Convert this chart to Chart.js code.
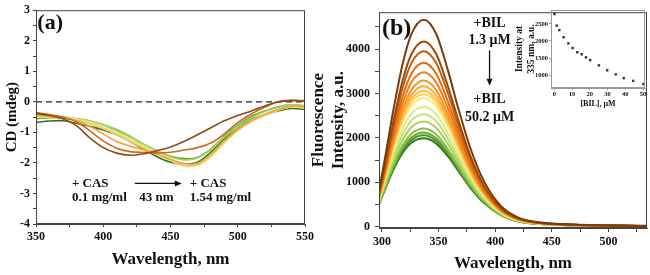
<!DOCTYPE html>
<html>
<head>
<meta charset="utf-8">
<script src="https://cdn.jsdelivr.net/npm/chart.js@4.4.0/dist/chart.umd.min.js"></script>
<style>
  body { margin: 0; background: #fff; }
  #wrap { position: relative; width: 650px; height: 275px; overflow: hidden; background: #fff; }
  canvas { position: absolute; top: 0; }
</style>
</head>
<body>
<div id="wrap">
  <canvas id="cd-chart" width="325" height="275" style="left:0px"></canvas>
  <canvas id="fl-chart" width="342" height="275" style="left:308px"></canvas>
  <canvas id="inset-chart" width="138" height="112" style="left:512px"></canvas>
</div>
<script>
// ---- panel (a): CD spectra, CAS titration ----
const cdWavelengths = [350, 360, 370, 380, 390, 400, 410, 420, 430, 440, 450, 460, 470, 480, 490, 500, 510, 520, 530, 540, 550];
const cdBrown    = [-0.38, -0.45, -0.55, -0.78, -1.18, -1.50, -1.68, -1.75, -1.70, -1.60, -1.48, -1.30, -1.08, -0.85, -0.62, -0.45, -0.30, -0.14, 0.00, 0.04, 0.02];
const cdOrange   = [-0.35, -0.42, -0.50, -0.65, -0.95, -1.28, -1.52, -1.63, -1.66, -1.67, -1.65, -1.58, -1.50, -1.35, -1.05, -0.68, -0.40, -0.18, 0.00, 0.05, 0.04];
const cdLtOrange = [-0.42, -0.48, -0.52, -0.62, -0.80, -1.05, -1.30, -1.45, -1.58, -1.72, -1.88, -2.02, -2.02, -1.72, -1.28, -0.90, -0.62, -0.42, -0.25, -0.14, -0.15];
const cdAmber    = [-0.45, -0.50, -0.52, -0.60, -0.72, -0.88, -1.08, -1.30, -1.52, -1.72, -1.92, -2.08, -2.05, -1.75, -1.30, -0.92, -0.62, -0.42, -0.25, -0.15, -0.18];
const cdYellow   = [-0.48, -0.50, -0.52, -0.60, -0.70, -0.85, -1.02, -1.25, -1.48, -1.70, -1.92, -2.10, -2.08, -1.80, -1.35, -0.95, -0.65, -0.45, -0.28, -0.17, -0.20];
const cdPale     = [-0.50, -0.48, -0.50, -0.56, -0.66, -0.80, -0.98, -1.20, -1.44, -1.66, -1.88, -2.05, -2.02, -1.72, -1.28, -0.90, -0.60, -0.40, -0.24, -0.14, -0.17];
const cdLtGreen  = [-0.45, -0.46, -0.48, -0.54, -0.62, -0.74, -0.90, -1.12, -1.38, -1.60, -1.80, -1.90, -1.84, -1.55, -1.15, -0.80, -0.52, -0.32, -0.18, -0.10, -0.13];
const cdGreen    = [-0.55, -0.52, -0.52, -0.58, -0.66, -0.78, -0.95, -1.18, -1.42, -1.62, -1.78, -1.86, -1.82, -1.55, -1.12, -0.76, -0.48, -0.30, -0.16, -0.10, -0.14];
const cdDkGreen  = [-0.68, -0.63, -0.62, -0.70, -0.80, -0.92, -1.08, -1.30, -1.55, -1.80, -1.98, -2.04, -1.98, -1.65, -1.22, -0.88, -0.58, -0.42, -0.30, -0.22, -0.25];
const zeroLineX = [350, 550];
const zeroLineY = [0, 0];

// ---- panel (b): fluorescence spectra, BIL titration ----
const flWavelengths = [297, 302, 310, 318, 326, 337, 348, 358, 368, 378, 390, 405, 420, 440, 470, 535];
const fl01 = [770, 1445, 2610, 3635, 4334, 4660, 4334, 3542, 2610, 1771, 1025, 466, 210, 93, 47, 19];
const fl02 = [708, 1316, 2356, 3265, 3882, 4170, 3882, 3180, 2352, 1601, 930, 425, 192, 86, 43, 17];
const fl03 = [689, 1269, 2252, 3105, 3683, 3950, 3678, 3022, 2242, 1531, 893, 411, 186, 83, 42, 17];
const fl04 = [661, 1207, 2122, 2912, 3446, 3690, 3439, 2832, 2107, 1443, 845, 390, 176, 81, 41, 16];
const fl05 = [640, 1157, 2018, 2758, 3254, 3480, 3245, 2680, 2001, 1375, 809, 374, 170, 78, 39, 16];
const fl06 = [620, 1112, 1925, 2618, 3080, 3290, 3070, 2542, 1905, 1313, 775, 360, 164, 76, 38, 15];
const fl07 = [610, 1087, 1864, 2525, 2963, 3160, 2951, 2449, 1841, 1272, 755, 351, 160, 75, 38, 15];
const fl08 = [606, 1068, 1821, 2454, 2873, 3060, 2858, 2379, 1793, 1242, 741, 346, 158, 75, 37, 15];
const fl09 = [603, 1058, 1788, 2399, 2801, 2980, 2786, 2324, 1758, 1222, 730, 343, 156, 75, 37, 15];
const fl10 = [598, 1043, 1748, 2335, 2720, 2890, 2704, 2261, 1717, 1196, 717, 338, 154, 74, 37, 15];
const fl11 = [572, 988, 1647, 2190, 2545, 2700, 2527, 2120, 1613, 1127, 678, 321, 147, 71, 35, 14];
const fl12 = [548, 941, 1556, 2059, 2388, 2530, 2371, 1992, 1521, 1065, 643, 306, 140, 68, 34, 14];
const fl13 = [524, 895, 1469, 1937, 2240, 2370, 2222, 1872, 1434, 1007, 610, 290, 133, 65, 33, 13];
const fl14 = [499, 846, 1381, 1814, 2091, 2210, 2073, 1751, 1346, 948, 577, 274, 126, 62, 31, 12];
const fl15 = [489, 824, 1336, 1747, 2009, 2120, 1990, 1685, 1299, 917, 560, 267, 123, 61, 31, 12];
const fl16 = [484, 812, 1308, 1704, 1955, 2060, 1934, 1643, 1269, 898, 550, 264, 122, 61, 30, 12];
const fl17 = [478, 796, 1274, 1652, 1891, 1990, 1871, 1592, 1234, 876, 537, 259, 119, 60, 30, 12];

// ---- inset: intensity at 335 nm vs [BIL] ----
const bilConc = [0, 1.3, 2.8, 5.2, 7.9, 10.3, 12.9, 15.4, 17.8, 20.2, 25.1, 29.8, 34.6, 39.1, 44.4, 50.2];
const bilIntensity = [2790, 2450, 2320, 2110, 1930, 1795, 1670, 1610, 1520, 1440, 1285, 1140, 1020, 910, 830, 735];

Chart.defaults.font.family = "'Liberation Serif', 'Times New Roman', serif";
Chart.defaults.font.weight = 'bold';
Chart.defaults.color = '#111';

function points(xs, ys) {
    return xs.map((x, i) => ({ x: x, y: ys[i] }));
}

// tick positions at a fixed step (major + minor), labels picked by callback
function fixedTicks(from, to, step) {
    return function(scale) {
        const t = [];
        for (let v = from; v <= to + 1e-9; v += step) {
            t.push({ value: Math.round(v * 100) / 100 });
        }
        scale.ticks = t;
    };
}

// box around the plot area
const framePlugin = {
    id: 'frame',
    afterDraw(chart, args, opts) {
        const a = chart.chartArea;
        const ctx = chart.ctx;
        ctx.save();
        ctx.strokeStyle = opts.color || '#333';
        ctx.lineWidth = opts.width || 1;
        ctx.strokeRect(a.left + 0.5, a.top + 0.5, a.right - a.left - 1, a.bottom - a.top - 1);
        ctx.restore();
    }
};

// text and arrows placed in data units
const notesPlugin = {
    id: 'notes',
    afterDatasetsDraw(chart, args, opts) {
        const ctx = chart.ctx;
        const xs = chart.scales.x, ys = chart.scales.y;
        ctx.save();
        ctx.fillStyle = '#111';
        ctx.strokeStyle = '#111';
        (opts.items || []).forEach(item => {
            const px = xs.getPixelForValue(item.x);
            const py = ys.getPixelForValue(item.y);
            if (item.text) {
                ctx.font = 'bold ' + item.size + "px 'Liberation Serif', serif";
                ctx.textAlign = item.align || 'left';
                ctx.textBaseline = 'middle';
                ctx.fillText(item.text, px, py);
            }
            if (item.toX !== undefined) {
                const qx = xs.getPixelForValue(item.toX);
                const qy = ys.getPixelForValue(item.toY);
                const ang = Math.atan2(qy - py, qx - px);
                ctx.lineWidth = 1.3;
                ctx.beginPath();
                ctx.moveTo(px, py);
                ctx.lineTo(qx - 5 * Math.cos(ang), qy - 5 * Math.sin(ang));
                ctx.stroke();
                ctx.beginPath();
                ctx.moveTo(qx, qy);
                ctx.lineTo(qx - 7 * Math.cos(ang) + 3 * Math.sin(ang), qy - 7 * Math.sin(ang) - 3 * Math.cos(ang));
                ctx.lineTo(qx - 7 * Math.cos(ang) - 3 * Math.sin(ang), qy - 7 * Math.sin(ang) + 3 * Math.cos(ang));
                ctx.closePath();
                ctx.fill();
            }
        });
        ctx.restore();
    }
};

// Adding the CD chart
const cdSeries = [cdBrown, cdOrange, cdLtOrange, cdAmber, cdYellow, cdPale, cdLtGreen, cdGreen, cdDkGreen];
const cdColors = ['#8a4a1c', '#d0691c', '#f3a33c', '#f8c75a', '#efe27a', '#dcec9a', '#a3cd66', '#5e9f38', '#2b7520'];

const cdDatasets = cdSeries.map((s, i) => ({
    data: points(cdWavelengths, s),
    borderColor: cdColors[i],
    borderWidth: 1.6,
    pointRadius: 0,
    tension: 0.35
}));
cdDatasets.push({
    data: points(zeroLineX, zeroLineY),
    borderColor: '#222',
    borderWidth: 1.2,
    borderDash: [6, 4],
    pointRadius: 0
});

new Chart(document.querySelector('#cd-chart').getContext('2d'), {
    type: 'line',
    data: { datasets: cdDatasets },
    options: {
        responsive: false,
        animation: false,
        devicePixelRatio: 1,
        layout: { padding: { top: 6, right: 20, left: 0, bottom: 0 } },
        plugins: {
            legend: { display: false },
            tooltip: { enabled: false },
            frame: { color: '#444', width: 1 },
            notes: {
                items: [
                    { text: '(a)', x: 351, y: 2.56, size: 22 },
                    { text: '+ CAS', x: 376.7, y: -2.67, size: 13 },
                    { text: '0.1 mg/ml', x: 376.7, y: -3.15, size: 13 },
                    { text: '43 nm', x: 439.5, y: -3.15, size: 13, align: 'center' },
                    { x: 423.5, y: -2.67, toX: 458.4, toY: -2.67 },
                    { text: '+ CAS', x: 464.3, y: -2.67, size: 13 },
                    { text: '1.54 mg/ml', x: 464.3, y: -3.15, size: 13 }
                ]
            }
        },
        scales: {
            x: {
                type: 'linear',
                min: 350, max: 550,
                afterFit: (scale) => { scale.height = 51; },
                afterBuildTicks: fixedTicks(350, 550, 25),
                border: { color: '#444', width: 1 },
                grid: { drawOnChartArea: false, tickLength: 3, color: '#444' },
                ticks: {
                    autoSkip: false, maxRotation: 0, padding: 3,
                    font: { size: 12, weight: 'bold' }, color: '#111',
                    callback: (v) => v % 50 === 0 ? String(v) : ''
                },
                title: {
                    display: true, text: 'Wavelength, nm',
                    font: { size: 17, weight: 'bold' }, color: '#111',
                    padding: { top: 0, bottom: 5 }
                }
            },
            y: {
                min: -4, max: 3,
                afterFit: (scale) => { scale.width = 36; },
                afterBuildTicks: fixedTicks(-4, 3, 0.5),
                border: { color: '#444', width: 1 },
                grid: { drawOnChartArea: false, tickLength: 3, color: '#444' },
                ticks: {
                    autoSkip: false, padding: 3,
                    font: { size: 12, weight: 'bold' }, color: '#111',
                    callback: (v) => v % 1 === 0 ? String(v) : ''
                },
                title: {
                    display: true, text: 'CD (mdeg)',
                    font: { size: 15, weight: 'bold' }, color: '#111',
                    padding: { top: 3, bottom: 0 }
                }
            }
        }
    },
    plugins: [framePlugin, notesPlugin]
});

// Adding the fluorescence chart
const flSeries = [fl01, fl02, fl03, fl04, fl05, fl06, fl07, fl08, fl09, fl10, fl11, fl12, fl13, fl14, fl15, fl16, fl17];
const flColors = ['#7a3b0b', '#9c4a0c', '#c05c0a', '#e06c0c', '#f07e18', '#f59426', '#f8aa38', '#fbc04a', '#fdd860',
                  '#f6ec7e', '#e0ec8a', '#c6e070', '#a8d05a', '#88be46', '#6aa836', '#4c9226', '#2e7a16'];

new Chart(document.querySelector('#fl-chart').getContext('2d'), {
    type: 'line',
    data: {
        datasets: flSeries.map((s, i) => ({
            data: points(flWavelengths, s),
            borderColor: flColors[i],
            borderWidth: 2,
            pointRadius: 0,
            cubicInterpolationMode: 'monotone'
        }))
    },
    options: {
        responsive: false,
        animation: false,
        devicePixelRatio: 1,
        layout: { padding: { top: 8, right: 3, left: 0, bottom: 0 } },
        plugins: {
            legend: { display: false },
            tooltip: { enabled: false },
            frame: { color: '#444', width: 1 },
            notes: {
                items: [
                    { text: '(b)', x: 300, y: 4457, size: 24 },
                    { text: '+BIL', x: 395, y: 4568, size: 14, align: 'center' },
                    { text: '1.3 \u03bcM', x: 395, y: 4192, size: 14, align: 'center' },
                    { x: 395, y: 3970, toX: 395, toY: 3175 },
                    { text: '+BIL', x: 395, y: 2866, size: 14, align: 'center' },
                    { text: '50.2 \u03bcM', x: 395, y: 2468, size: 14, align: 'center' }
                ]
            }
        },
        scales: {
            x: {
                type: 'linear',
                min: 297.4, max: 534,
                afterFit: (scale) => { scale.height = 47; },
                afterBuildTicks: fixedTicks(300, 525, 25),
                border: { color: '#444', width: 1 },
                grid: { drawOnChartArea: false, tickLength: 4, color: '#444' },
                ticks: {
                    autoSkip: false, maxRotation: 0, padding: 3,
                    font: { size: 12, weight: 'bold' }, color: '#111',
                    callback: (v) => v % 50 === 0 ? String(v) : ''
                },
                title: {
                    display: true, text: 'Wavelength, nm',
                    font: { size: 17, weight: 'bold' }, color: '#111',
                    padding: { top: 0, bottom: 1 }
                }
            },
            y: {
                min: -30, max: 4830,
                afterFit: (scale) => { scale.width = 71; },
                afterBuildTicks: fixedTicks(0, 4500, 500),
                border: { color: '#444', width: 1 },
                grid: { drawOnChartArea: false, tickLength: 4, color: '#444' },
                ticks: {
                    autoSkip: false, padding: 5,
                    font: { size: 12, weight: 'bold' }, color: '#111',
                    callback: (v) => v % 1000 === 0 ? String(v) : ''
                },
                title: {
                    display: true, text: ['Fluorescence', 'Intensity, a.u.'],
                    font: { size: 17, weight: 'bold', lineHeight: 1.15 }, color: '#111',
                    padding: { top: 1, bottom: 0 }
                }
            }
        }
    },
    plugins: [framePlugin, notesPlugin]
});

// Adding the inset scatter
new Chart(document.querySelector('#inset-chart').getContext('2d'), {
    type: 'scatter',
    data: {
        datasets: [{
            data: points(bilConc, bilIntensity),
            backgroundColor: '#333',
            borderColor: '#333',
            pointStyle: 'rect',
            pointRadius: 1.7,
            borderWidth: 0
        }]
    },
    options: {
        responsive: false,
        animation: false,
        devicePixelRatio: 1,
        layout: { padding: { top: 10, right: 5, left: 0, bottom: 0 } },
        plugins: {
            legend: { display: false },
            tooltip: { enabled: false },
            frame: { color: '#999', width: 1 }
        },
        scales: {
            x: {
                min: -1.9, max: 51.1,
                afterFit: (scale) => { scale.height = 24; },
                afterBuildTicks: fixedTicks(0, 50, 10),
                border: { color: '#999', width: 1 },
                grid: { drawOnChartArea: false, tickLength: 2, color: '#999' },
                ticks: {
                    autoSkip: false, maxRotation: 0, padding: 0,
                    font: { size: 6.5, weight: 'bold' }, color: '#111',
                    callback: (v) => String(v)
                },
                title: {
                    display: true, text: '[BIL], \u03bcM',
                    font: { size: 8, weight: 'bold' }, color: '#111',
                    padding: { top: 0, bottom: 3 }
                }
            },
            y: {
                min: 620, max: 2910,
                afterFit: (scale) => { scale.width = 39; },
                afterBuildTicks: fixedTicks(1000, 2500, 500),
                border: { color: '#999', width: 1 },
                grid: { drawOnChartArea: false, tickLength: 2, color: '#999' },
                ticks: {
                    autoSkip: false, padding: 1,
                    font: { size: 6.5, weight: 'bold' }, color: '#111',
                    callback: (v) => String(v)
                },
                title: {
                    display: true, text: ['Intensity at', '335 nm, a.u.'],
                    font: { size: 9.5, weight: 'bold', lineHeight: 1.2 }, color: '#111',
                    padding: { top: 2, bottom: 0 }
                }
            }
        }
    },
    plugins: [framePlugin]
});
</script>
</body>
</html>
